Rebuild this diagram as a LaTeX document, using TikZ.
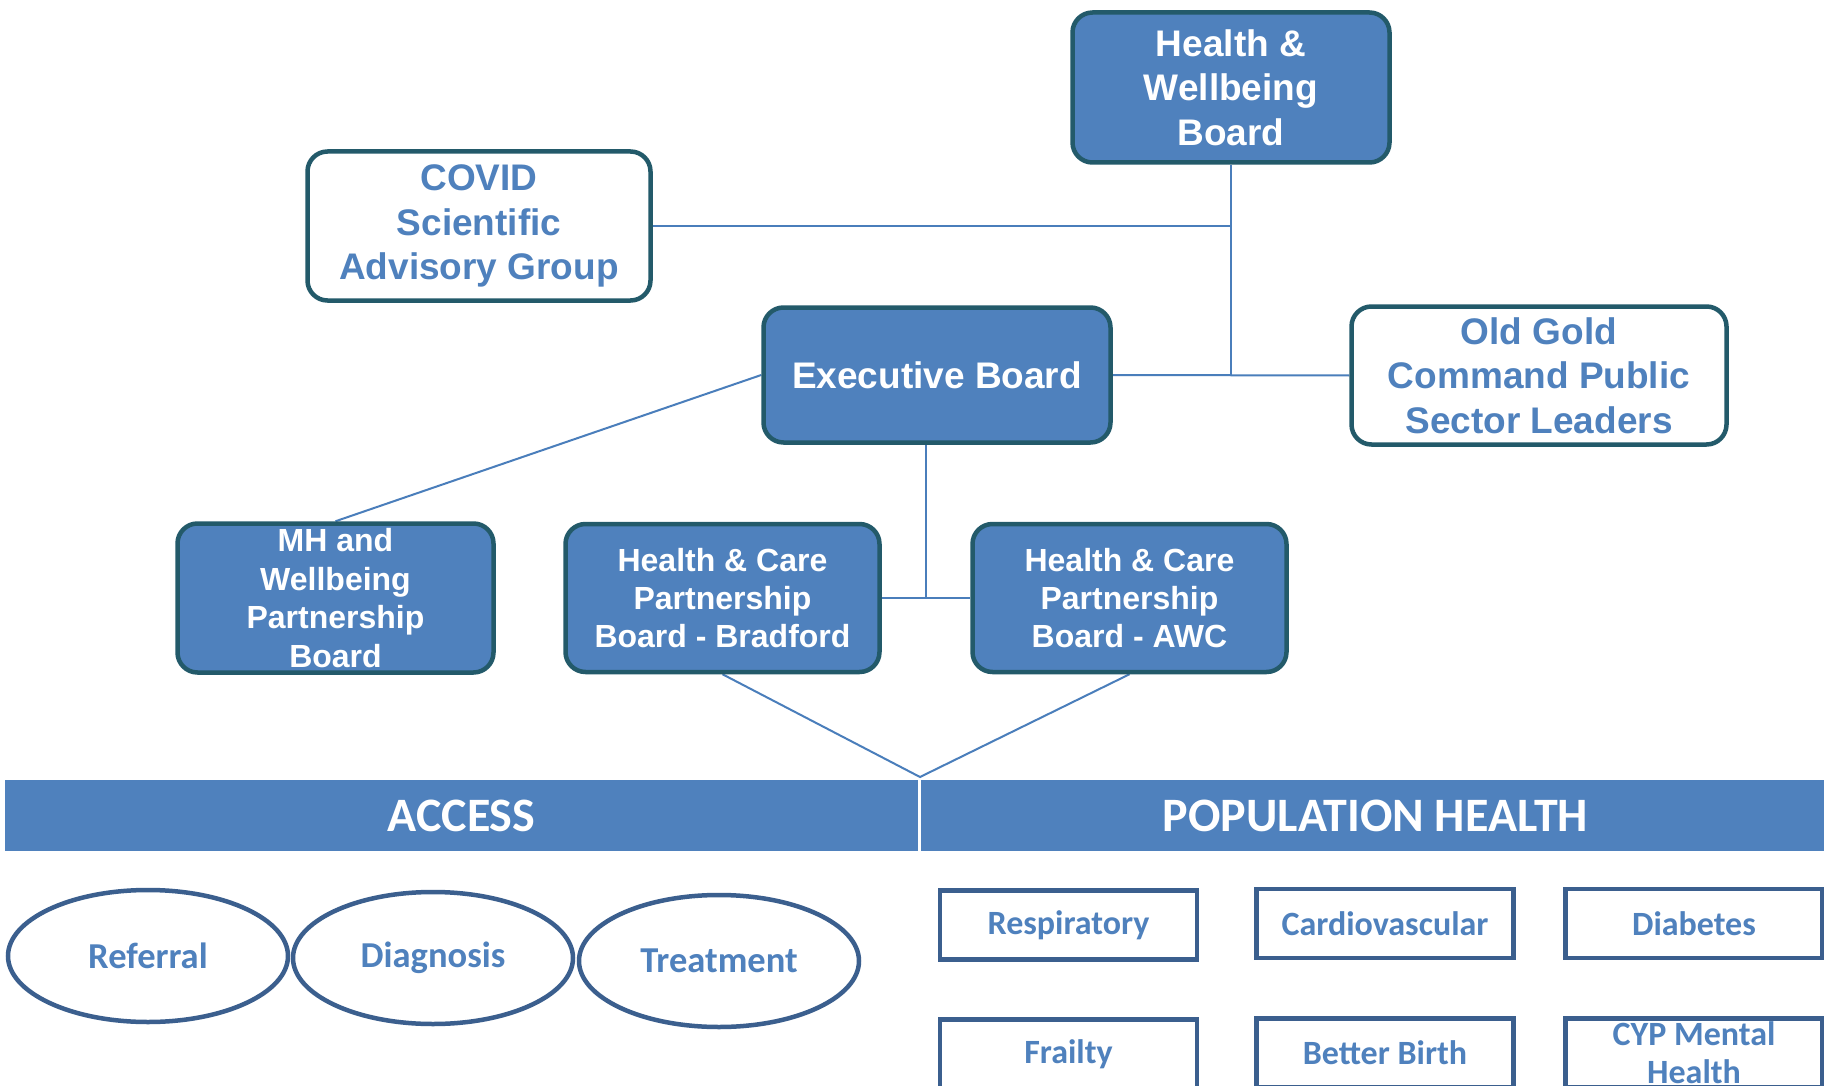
\documentclass[tikz,border=0pt]{standalone}
\usepackage{fontspec}
\setmainfont{Liberation Sans}
\newfontfamily\calfont{Carlito}
\usetikzlibrary{shapes.geometric,calc}
\pgfdeclarelayer{background}
\pgfsetlayers{background,main}

\definecolor{boardfill}{HTML}{4F81BD}
\definecolor{boardedge}{HTML}{235A6A}
\definecolor{linkblue}{HTML}{4A7EBB}
\definecolor{outlineblue}{HTML}{3B5F8E}
\definecolor{labelblue}{HTML}{4F81BD}

\tikzset{
  board/.style={draw=boardedge, line width=4.5pt, rounded corners=20pt,
    fill=boardfill, text=white, align=center, inner sep=0pt,
    font=\bfseries\fontsize{37}{44.5}\selectfont},
  advisory/.style={board, fill=white, text=labelblue},
  subboard/.style={board, font=\bfseries\fontsize{32}{38.4}\selectfont},
  link/.style={draw=linkblue, line width=2pt},
  banner/.style={fill=boardfill, text=white, inner sep=0pt,
    minimum height=71pt, font=\calfont\bfseries\fontsize{48}{56}\selectfont},
  stage/.style={ellipse, draw=outlineblue, line width=4.5pt, fill=white,
    text=labelblue, inner sep=0pt, minimum width=280pt, minimum height=132pt,
    font=\calfont\bfseries\fontsize{36.5}{43}\selectfont},
  theme/.style={draw=outlineblue, line width=4.5pt, fill=white, text=labelblue,
    align=center, inner sep=0pt, minimum width=257pt, minimum height=69pt,
    font=\calfont\bfseries\fontsize{34}{38}\selectfont},
}

\begin{document}
\begin{tikzpicture}[x=1pt, y=-1pt]
  \clip (0,0) rectangle (1824,1086);

  % governance boards
  \node[board, minimum width=317pt, minimum height=150pt] (hwb) at (1231,87.5)
    {Health \&\\Wellbeing\\Board};
  \node[advisory, minimum width=343pt, minimum height=149pt] (cov) at (479,226)
    {COVID\\Scientific\\Advisory Group};
  \node[board, minimum width=347pt, minimum height=135pt] (eb) at (937,375)
    {Executive Board};
  \node[advisory, minimum width=375pt, minimum height=138pt] (og) at (1539,375.5)
    {Old Gold\\Command Public\\Sector Leaders};

  % partnership boards
  \node[subboard, minimum width=316pt, minimum height=149pt] (mh) at (335.5,598)
    {MH and\\Wellbeing\\Partnership\\Board};
  \node[subboard, minimum width=314pt, minimum height=148pt] (hcb) at (722.5,598)
    {Health \& Care\\Partnership\\Board - Bradford};
  \node[subboard, minimum width=314pt, minimum height=148pt] (hca) at (1129.5,598)
    {Health \& Care\\Partnership\\Board - AWC};

  % programme banners
  \node[banner, minimum width=913pt] (access) at (461.5,815.5) {ACCESS};
  \node[banner, minimum width=909pt] (pophealth) at (1375.5,815.5) {POPULATION HEALTH};
  \coordinate (meet) at (920,777);

  % access pathway
  \node[stage] (referral) at (148,956) {Referral};
  \node[stage] (diagnosis) at (433,958) {Diagnosis};
  \node[stage] (treatment) at (719,961) {Treatment};

  % population health themes
  \node[theme] (resp) at (1068.5,925) {Respiratory};
  \node[theme] (cardio) at (1385,923.5) {Cardiovascular};
  \node[theme] (diab) at (1694,923.5) {Diabetes};
  \node[theme] (frailty) at (1068.5,1054) {Frailty};
  \node[theme] (birth) at (1385,1053) {Better Birth};
  \node[theme] (cyp) at (1694,1053) {CYP Mental\\Health};

  % connectors, kept behind the boxes
  \begin{pgfonlayer}{background}
    \fill[white] (0,0) rectangle (1824,1086);
    \draw[link] (hwb.south) -- (hwb.south |- eb.east);
    \draw[link] (cov.east) -- (cov.east -| hwb.south);
    \draw[link] (eb.east) -- (og.west);
    \draw[link] (eb.west) -- (mh.north);
    \draw[link] (hcb.east) -- (hca.west);
    \coordinate (split) at ($(hcb.east)!0.5!(hca.west)$);
    \draw[link] (split) -- (split |- eb.south);
    \draw[link] (hcb.south) -- (meet) -- (hca.south);
  \end{pgfonlayer}
\end{tikzpicture}
\end{document}
